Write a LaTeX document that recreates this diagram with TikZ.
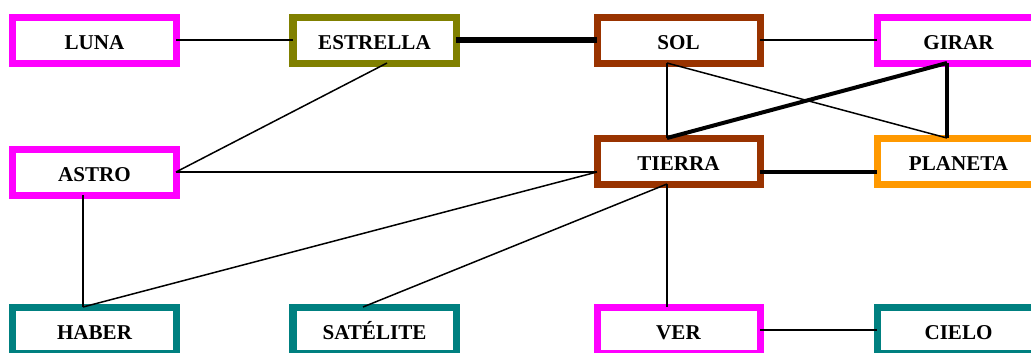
\documentclass[tikz,border=0pt]{standalone}
\usepackage{fontspec}
\setmainfont{Liberation Serif}
\usepackage{tikz}
\usetikzlibrary{calc}

\definecolor{rosa}{HTML}{FF00FF}
\definecolor{olivo}{HTML}{808000}
\definecolor{marron}{HTML}{993300}
\definecolor{naranja}{HTML}{FF9900}
\definecolor{verdeazul}{HTML}{008080}

\begin{document}
\begin{tikzpicture}[x=0.03cm, y=-0.03cm,
    concepto/.style={draw, rectangle, line width=0.21cm, fill=white, outer sep=0pt,
        minimum width=4.89cm, minimum height=1.38cm, text height=16pt, text depth=0pt,
        font=\fontsize{18}{20}\selectfont\bfseries},
    fino/.style={line width=0.045cm},
    grueso/.style={line width=0.12cm},
    muygrueso/.style={line width=0.16cm}]
    \useasboundingbox (0,0) rectangle (1031,352);

    \node[concepto, draw=rosa] (LUNA) at (94.5,40) {LUNA};
    \node[concepto, draw=olivo] (ESTRELLA) at (374.5,40) {ESTRELLA};
    \node[concepto, draw=marron] (SOL) at (678.5,40) {SOL};
    \node[concepto, draw=rosa] (GIRAR) at (958.5,40) {GIRAR};

    \node[concepto, draw=rosa] (ASTRO) at (94.5,172) {ASTRO};
    \node[concepto, draw=marron] (TIERRA) at (678.5,161) {TIERRA};
    \node[concepto, draw=naranja] (PLANETA) at (958.5,161) {PLANETA};

    \node[concepto, draw=verdeazul] (HABER) at (94.5,330) {HABER};
    \node[concepto, draw=verdeazul] (SATELITE) at (374.5,330) {SATÉLITE};
    \node[concepto, draw=rosa] (VER) at (678.5,330) {VER};
    \node[concepto, draw=verdeazul] (CIELO) at (958.5,330) {CIELO};

    \coordinate (estrellaabajo) at ($(ESTRELLA.south)+(12.5,0)$);
    \coordinate (solabajo) at ($(SOL.south)+(-11.5,0)$);
    \coordinate (girarabajo) at ($(GIRAR.south)+(-11.5,0)$);
    \coordinate (astroabajo) at ($(ASTRO.south)+(-11.5,0)$);
    \coordinate (tierraarriba) at ($(TIERRA.north)+(-11.5,0)$);
    \coordinate (tierraabajo) at ($(TIERRA.south)+(-11.5,0)$);
    \coordinate (tierraizq) at (ASTRO.east -| TIERRA.west);
    \coordinate (tierrader) at (ASTRO.east -| TIERRA.east);
    \coordinate (planetaizq) at (ASTRO.east -| PLANETA.west);
    \coordinate (planetaarriba) at ($(PLANETA.north)+(-11.5,0)$);
    \coordinate (haberarriba) at ($(HABER.north)+(-11.5,0)$);
    \coordinate (satelitearriba) at ($(SATELITE.north)+(-11.5,0)$);
    \coordinate (verarriba) at ($(VER.north)+(-11.5,0)$);

    \draw[fino] (LUNA.east) -- (ESTRELLA.west);
    \draw[muygrueso] (ESTRELLA.east) -- (SOL.west);
    \draw[fino] (SOL.east) -- (GIRAR.west);
    \draw[fino] (estrellaabajo) -- (ASTRO.east);
    \draw[fino] (ASTRO.east) -- (tierraizq);
    \draw[fino] (tierraizq) -- (haberarriba);
    \draw[fino] (astroabajo) -- (haberarriba);
    \draw[fino] (solabajo) -- (tierraarriba);
    \draw[fino] (solabajo) -- (planetaarriba);
    \draw[grueso] (tierraarriba) -- (girarabajo);
    \draw[grueso] (girarabajo) -- (planetaarriba);
    \draw[grueso] (tierrader) -- (planetaizq);
    \draw[fino] (tierraabajo) -- (satelitearriba);
    \draw[fino] (tierraabajo) -- (verarriba);
    \draw[fino] (VER.east) -- (CIELO.west);
\end{tikzpicture}
\end{document}
